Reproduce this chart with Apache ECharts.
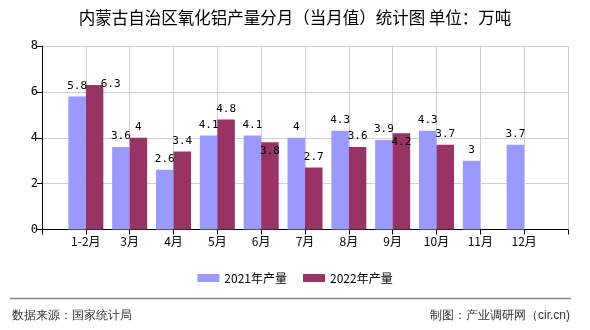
<!DOCTYPE html>
<html>
<head>
<meta charset="utf-8">
<script src="https://cdn.jsdelivr.net/npm/echarts@6/dist/echarts.min.js"></script>
<style>
html,body{margin:0;padding:0;background:#fff;}
#chart{width:590px;height:330px;}
</style>
</head>
<body>
<div id="chart"></div>
<script>
const titleText = '内蒙古自治区氧化铝产量分月（当月值）统计图 单位：万吨';
const categories = ['1-2月','3月','4月','5月','6月','7月','8月','9月','10月','11月','12月'];
const seriesNames = ['2021年产量','2022年产量'];
const values2021 = [5.8, 3.6, 2.6, 4.1, 4.1, 4, 4.3, 3.9, 4.3, 3, 3.7];
const values2022 = [6.3, 4, 3.4, 4.8, 3.8, 2.7, 3.6, 4.2, 3.7, null, null];
const yTicks = [0, 2, 4, 6, 8];
const sourceText = '数据来源：国家统计局';
const creditText = '制图：产业调研网（cir.cn)';

// label placement tweaks (index -> offset) for 2022 series
const labelOffsets2022 = {0: [16, 10], 4: [0, 19], 7: [0, 19]};

const numFont = '"DejaVu Sans Mono", "Liberation Mono", monospace';
const cjkFont = '"Noto Sans CJK SC", "Noto Sans", sans-serif';

const axisCats = [''].concat(categories, ['']);
function pad(arr) { return [null].concat(arr, [null]); }

function buildData(arr, offsets) {
  return pad(arr).map((v, i) => {
    const idx = i - 1;
    if (offsets && offsets[idx]) {
      return { value: v, label: { offset: offsets[idx] } };
    }
    return v;
  });
}

const chart = echarts.init(document.getElementById('chart'), null, {renderer: 'canvas'});
chart.setOption({
  animation: false,
  backgroundColor: '#ffffff',
  title: {
    text: titleText,
    left: 'center',
    top: 9,
    padding: 0,
    textStyle: { fontSize: 16.5, fontWeight: 'normal', color: '#000', fontFamily: cjkFont }
  },
  legend: {
    data: seriesNames,
    left: 'center',
    top: 272,
    padding: 0,
    itemWidth: 22,
    itemHeight: 8,
    itemGap: 16,
    icon: 'rect',
    textStyle: { fontSize: 12, color: '#000', fontFamily: cjkFont }
  },
  grid: { left: 42, right: 22, top: 46, bottom: 100.5, containLabel: false },
  xAxis: {
    type: 'category',
    data: axisCats,
    boundaryGap: false,
    axisLine: { lineStyle: { color: '#000', width: 1 } },
    axisTick: { show: true, interval: 0, length: 5, lineStyle: { color: '#000' } },
    axisLabel: { interval: 0, color: '#000', fontSize: 12, margin: 6, fontFamily: cjkFont },
    splitLine: { show: true, interval: 0, lineStyle: { color: '#d0d0d0', width: 1 } }
  },
  yAxis: {
    type: 'value',
    min: yTicks[0],
    max: yTicks[yTicks.length - 1],
    interval: yTicks[1] - yTicks[0],
    axisLine: { show: true, lineStyle: { color: '#000', width: 1 } },
    axisTick: { show: true, length: 5, lineStyle: { color: '#000' } },
    axisLabel: { color: '#000', fontSize: 12, margin: 4, fontFamily: numFont },
    splitLine: { show: true, lineStyle: { color: '#d0d0d0', width: 1 } }
  },
  series: [
    {
      name: seriesNames[0],
      type: 'bar',
      data: buildData(values2021, null),
      barWidth: 17.5,
      barGap: '0%',
      itemStyle: { color: '#9999ff' },
      label: { show: true, position: 'top', distance: 5, color: '#000', fontSize: 11, fontFamily: numFont }
    },
    {
      name: seriesNames[1],
      type: 'bar',
      data: buildData(values2022, labelOffsets2022),
      barWidth: 17.5,
      barGap: '0%',
      itemStyle: { color: '#993366' },
      label: { show: true, position: 'top', distance: 5, color: '#000', fontSize: 11, fontFamily: numFont }
    }
  ],
  graphic: [
    { type: 'line', shape: { x1: 10, y1: 298.5, x2: 571, y2: 298.5 }, style: { stroke: '#888', lineWidth: 1.5 } },
    { type: 'text', left: 12, top: 310, style: { text: sourceText, fontSize: 12, fill: '#333', font: '12px ' + cjkFont } },
    { type: 'text', right: 20, top: 310, style: { text: creditText, fontSize: 12, fill: '#333', font: '12px ' + cjkFont } }
  ]
});
</script>
</body>
</html>
